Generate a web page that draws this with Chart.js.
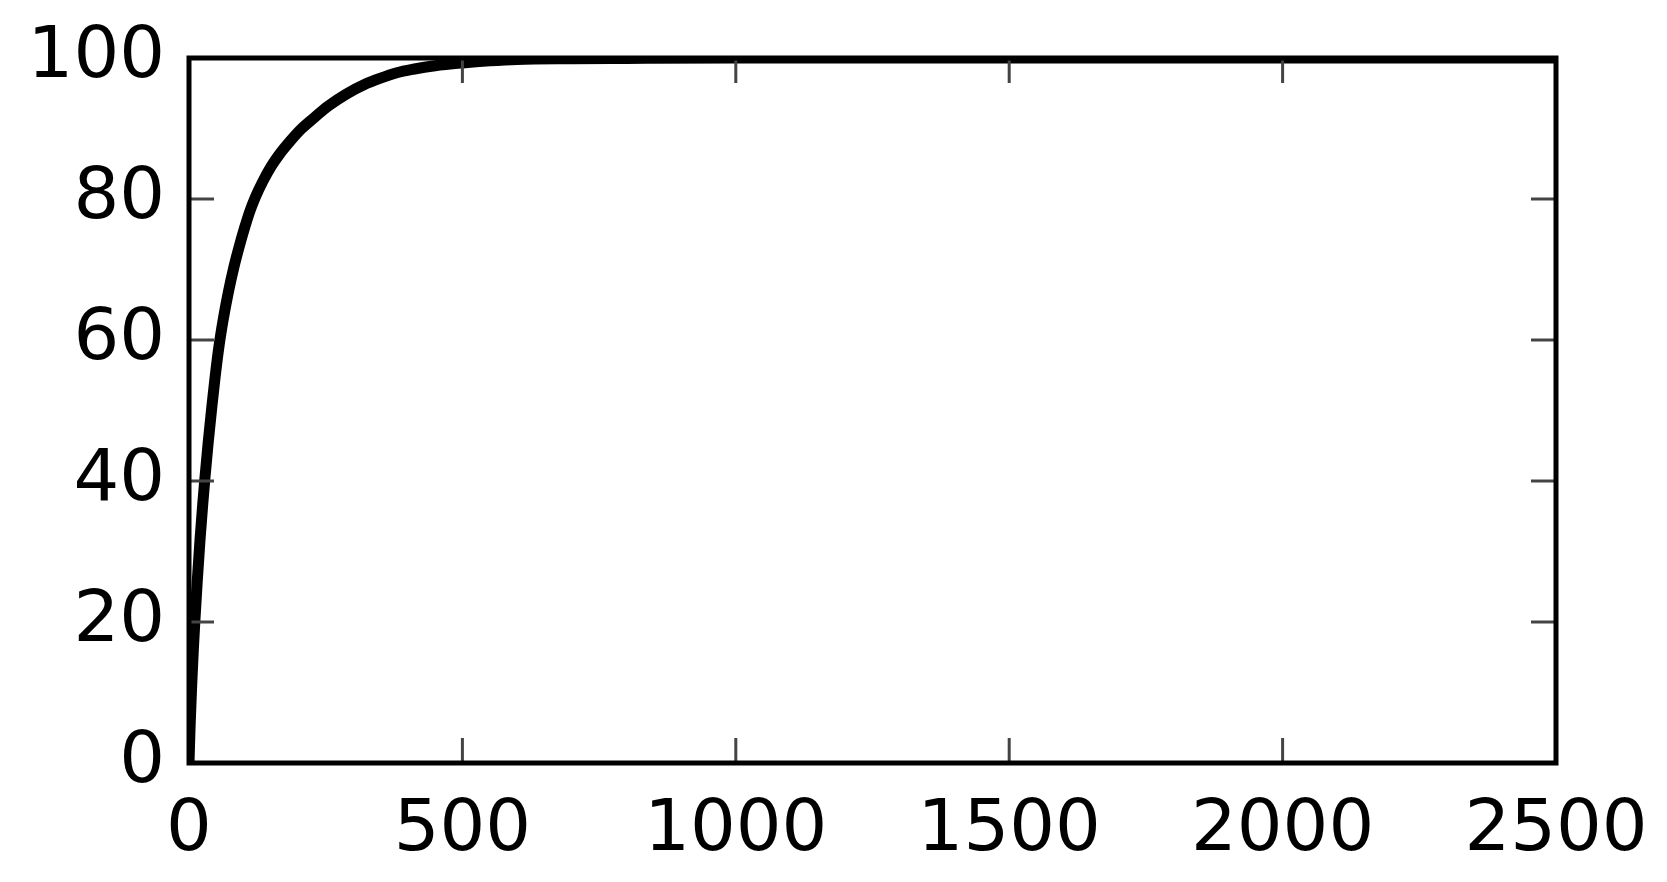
<!DOCTYPE html>
<html lang="en">
<head>
    <meta charset="UTF-8">
    <title>Curve</title>
    <script src="https://cdn.jsdelivr.net/npm/chart.js"></script>
    <style>
        body {
            margin: 0;
            background-color: #ffffff;
        }
        canvas {
            display: block;
        }
    </style>
</head>
<body>
    <canvas id="lineChart" width="1667" height="882"></canvas>

    <script>
        // values
        const xValues = [0, 2, 5, 8, 11, 15, 20, 25, 29, 35, 42, 48, 55, 63, 72, 82, 92, 102, 111, 121, 135, 150, 166, 185, 205, 227, 255, 288, 320, 349, 380, 410, 450, 500, 550, 600, 700, 800, 1000, 1500, 2000, 2500];
        const yValues = [0, 5.2, 11.2, 16.2, 20.5, 25.7, 31.5, 36.6, 40.3, 45.4, 50.7, 54.9, 59.2, 63.1, 66.8, 70.3, 73.3, 76, 78.2, 80.2, 82.5, 84.6, 86.4, 88.2, 89.9, 91.4, 93.2, 94.9, 96.2, 97.1, 97.9, 98.4, 98.9, 99.3, 99.6, 99.8, 99.9, 99.94, 99.99, 100, 100, 100];
        const xTicks = [0, 500, 1000, 1500, 2000, 2500];
        const yTicks = [0, 20, 40, 60, 80, 100];

        const points = xValues.map((x, i) => ({ x: x, y: yValues[i] }));

        // frame and inward ticks on all four sides
        const frameTicks = {
            id: "frameTicks",
            afterDatasetsDraw(chart) {
                const { ctx, chartArea: a, scales } = chart;
                const len = 25;
                ctx.save();
                ctx.strokeStyle = "#444";
                ctx.lineWidth = 3;
                ctx.beginPath();
                scales.x.ticks.forEach((t, i) => {
                    const px = scales.x.getPixelForTick(i);
                    ctx.moveTo(px, a.bottom); ctx.lineTo(px, a.bottom - len);
                    ctx.moveTo(px, a.top); ctx.lineTo(px, a.top + len);
                });
                scales.y.ticks.forEach((t, i) => {
                    const py = scales.y.getPixelForTick(i);
                    ctx.moveTo(a.left, py); ctx.lineTo(a.left + len, py);
                    ctx.moveTo(a.right, py); ctx.lineTo(a.right - len, py);
                });
                ctx.stroke();
                ctx.strokeStyle = "#000";
                ctx.lineWidth = 5;
                ctx.strokeRect(a.left, a.top, a.right - a.left, a.bottom - a.top);
                ctx.restore();
            }
        };

        const ctx = document.getElementById("lineChart").getContext("2d");
        new Chart(ctx, {
            type: "scatter",
            data: {
                datasets: [{
                    data: points,
                    showLine: true,
                    borderColor: "#000",
                    borderWidth: 11,
                    pointRadius: 0,
                    cubicInterpolationMode: "monotone",
                    fill: false
                }]
            },
            options: {
                responsive: false,
                animation: false,
                layout: {
                    padding: { top: 58, right: 111, left: 0, bottom: 0 }
                },
                plugins: {
                    legend: { display: false },
                    tooltip: { enabled: false }
                },
                scales: {
                    x: {
                        type: "linear",
                        min: 0,
                        max: 2500,
                        afterBuildTicks(scale) {
                            scale.ticks = xTicks.map(v => ({ value: v }));
                        },
                        afterFit(scale) {
                            scale.height = 882 - 763;
                            scale.paddingLeft = 0;
                            scale.paddingRight = 0;
                        },
                        grid: { display: false, drawTicks: false },
                        border: { display: false },
                        ticks: {
                            color: "#000",
                            padding: 25,
                            maxRotation: 0,
                            font: { family: "DejaVu Sans", size: 72 },
                            callback: v => String(v)
                        }
                    },
                    y: {
                        min: 0,
                        max: 100,
                        afterBuildTicks(scale) {
                            scale.ticks = yTicks.map(v => ({ value: v }));
                        },
                        afterFit(scale) {
                            scale.width = 189;
                            scale.paddingTop = 0;
                            scale.paddingBottom = 0;
                        },
                        grid: { display: false, drawTicks: false },
                        border: { display: false },
                        ticks: {
                            color: "#000",
                            padding: 24,
                            font: { family: "DejaVu Sans", size: 72 },
                            callback: v => String(v)
                        }
                    }
                }
            },
            plugins: [frameTicks]
        });
    </script>
</body>
</html>
